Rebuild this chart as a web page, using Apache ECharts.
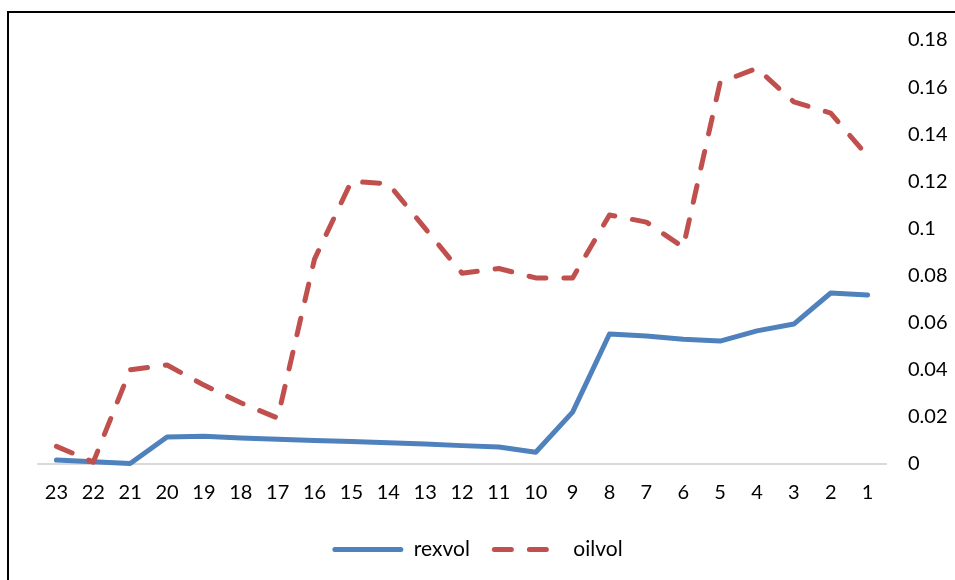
<!DOCTYPE html>
<html><head><meta charset="utf-8">
<script src="https://cdn.jsdelivr.net/npm/echarts@6/dist/echarts.min.js"></script>
<style>html,body{margin:0;padding:0;background:#fff}#c{width:955px;height:580px}</style>
</head><body><div id="c"></div>
<script>
const categories = ['23','22','21','20','19','18','17','16','15','14','13','12','11','10','9','8','7','6','5','4','3','2','1'];
const rexvol = [0.0017,0.001,0.0002,0.0115,0.0118,0.011,0.0105,0.010,0.0095,0.009,0.0085,0.0078,0.0072,0.005,0.022,0.0552,0.0543,0.053,0.0522,0.0565,0.0594,0.0726,0.0717];
const oilvol = [0.0075,0.0008,0.040,0.042,0.0335,0.026,0.0195,0.087,0.120,0.119,0.100,0.081,0.083,0.079,0.079,0.1057,0.1027,0.092,0.162,0.168,0.1537,0.149,0.1307];
const yTicks = [0,0.02,0.04,0.06,0.08,0.1,0.12,0.14,0.16,0.18];

const font = 'Lato, "Open Sans", sans-serif';
const chart = echarts.init(document.getElementById('c'), null, {renderer:'canvas'});
chart.setOption({
  animation:false,
  graphic:[{type:'rect', shape:{x:8,y:12,width:1000,height:1000}, style:{fill:'none', stroke:'#000', lineWidth:2}, silent:true}],
  grid:{left:38,right:69,top:40,bottom:116},
  legend:{
    bottom:15, left:'center', itemWidth:66, itemHeight:14, itemGap:22,
    itemStyle:{opacity:0},
    lineStyle:{width:5,cap:'round'},
    textStyle:{fontFamily:font,fontSize:21,color:'#000',padding:[0,0,0,8]},
    data:['rexvol','oilvol']
  },
  xAxis:{type:'category',data:categories,boundaryGap:true,
    axisLine:{lineStyle:{color:'#d9d9d9',width:2}},axisTick:{show:false},
    axisLabel:{fontFamily:font,fontSize:20,color:'#000',margin:19,interval:0}},
  yAxis:{type:'value',position:'right',min:0,max:0.18,interval:0.02,
    splitLine:{show:false},axisLine:{show:false},axisTick:{show:false},
    axisLabel:{fontFamily:font,fontSize:20,color:'#000',margin:22,align:'left',
      formatter:v=>{const t=yTicks.find(x=>Math.abs(x-v)<1e-9);return String(+(t!==undefined?t:v).toFixed(2));}}},
  series:[
    {name:'rexvol',type:'line',data:rexvol,symbol:'none',lineStyle:{color:'#4F81BD',width:5,cap:'round',join:'round'},itemStyle:{color:'#4F81BD'}},
    {name:'oilvol',type:'line',data:oilvol,symbol:'none',lineStyle:{color:'#C0504D',width:5,type:[17,18],cap:'round',join:'round'},itemStyle:{color:'#C0504D'}}
  ]
});
</script></body></html>
